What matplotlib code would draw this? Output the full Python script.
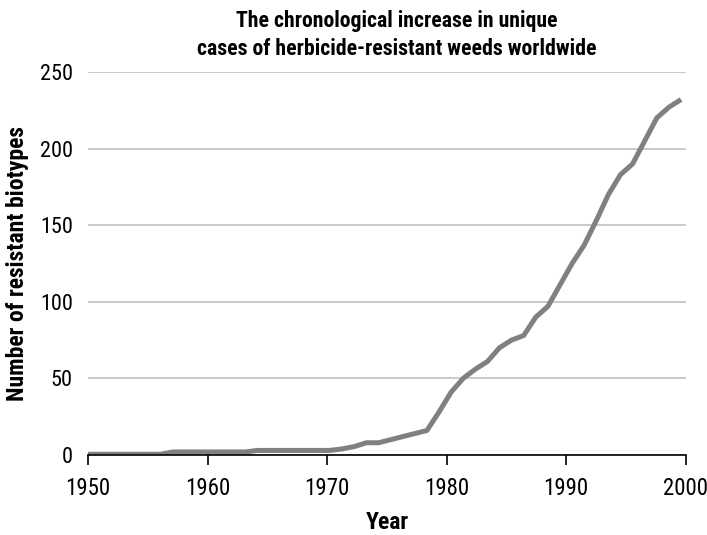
import matplotlib.pyplot as plt
import numpy as np

plt.rcParams['font.family'] = ['Roboto Condensed', 'DejaVu Sans']

years = np.arange(1950, 2000)
biotypes = [
    0.5, 0.5, 0.5, 0.5, 0.5, 0.5, 0.5,      # 1950-1956
    2, 2, 2, 2, 2, 2, 2,                    # 1957-1963
    3, 3, 3, 3, 3, 3, 3,                    # 1964-1970
    4, 5.5, 8, 8, 10, 12, 14, 16, 28,       # 1971-1979
    41, 50, 56, 61, 70, 75, 78, 90, 97, 111,  # 1980-1989
    125, 137, 153, 170, 183, 190, 205, 220, 227, 232,  # 1990-1999
]

# points are spread a bit wider than one per year, like the original category axis
xpos = np.linspace(1950, 1999.6, len(years))

fig = plt.figure(figsize=(7.07, 5.35), dpi=100)
ax = fig.add_axes([0.1245, 0.1495, 0.8455, 0.716])

ax.plot(xpos, biotypes, color='#808080', linewidth=3.6, solid_capstyle='butt', zorder=3)

ax.set_xlim(1950, 2000)
ax.set_ylim(0, 250)
ax.set_xticks(np.arange(1950, 2001, 10))
ax.set_yticks(np.arange(0, 251, 50))

ax.grid(axis='y', color='#c0c0c0', linewidth=1.2)
ax.set_axisbelow(True)
for side in ['top', 'right', 'left']:
    ax.spines[side].set_visible(False)
ax.spines['bottom'].set_linewidth(1.2)
ax.spines['bottom'].set_zorder(4)

ax.tick_params(axis='x', direction='out', length=7, width=1.2, pad=9, labelsize=16.5)
ax.tick_params(axis='y', length=0, pad=11, labelsize=16)

ax.set_xlabel('Year', fontsize=17, fontweight='bold', labelpad=8)
ax.set_ylabel('Number of resistant biotypes', fontsize=17, fontweight='bold', labelpad=8)

fig.text(0.5615, 0.982, 'The chronological increase in unique\ncases of herbicide-resistant weeds worldwide',
         ha='center', va='top', fontsize=15.7, fontweight='bold', linespacing=1.4)

fig.savefig('out.png', dpi=100)
